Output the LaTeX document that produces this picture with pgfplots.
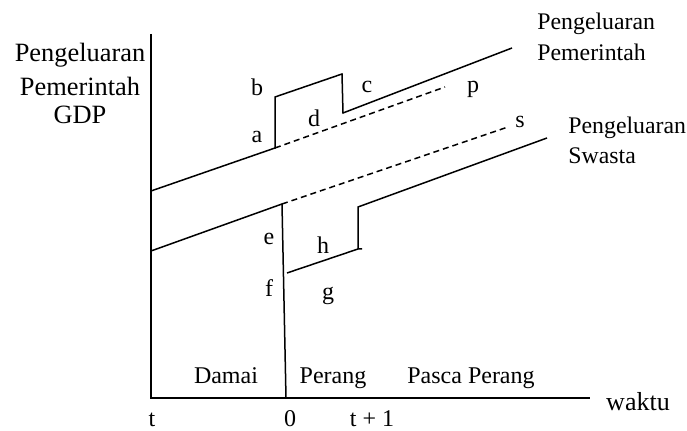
\documentclass[border=0pt]{standalone}
\usepackage{fontspec}
\setmainfont{Liberation Serif}
\usepackage{pgfplots}
\pgfplotsset{compat=1.18}
\tikzset{
  lbl/.style={font=\rmfamily\fontsize{12}{14}\selectfont, inner sep=0pt},
  big/.style={font=\rmfamily\fontsize{13.2}{15}\selectfont, inner sep=0pt},
  side/.style={font=\rmfamily\fontsize{11.9}{14}\selectfont, inner sep=0pt, anchor=west},
  ln/.style={black, line width=0.75pt, mark=none},
}

\begin{document}
\begin{tikzpicture}
\begin{axis}[
  scale only axis, width=343.5pt, height=215.5pt,
  xmin=0, xmax=687, ymin=0, ymax=431, y dir=reverse,
  hide axis, clip=false,
]
% keep the full frame in the bounding box
\path (axis cs:0,0) rectangle (axis cs:687,431);
% axes
\addplot[ln] coordinates {(151,34)(151,398)(590,398)};
% government spending
\addplot[ln] coordinates {(151,191)(275,148)(275,97)(342,74)(343,113)(512,48)};
\addplot[ln, dash pattern=on 3pt off 2pt] coordinates {(275,148)(445,87)};
% private spending
\addplot[ln] coordinates {(151,251)(282,204)(286,398)};
\addplot[ln, dash pattern=on 3pt off 2pt] coordinates {(282,204)(508,127)};
\addplot[ln] coordinates {(287,273)(358,249)(362,249)};
\addplot[ln] coordinates {(358,249)(358,207)(547,138)};

% left label
\node[big] at (axis cs:80,55) {Pengeluaran};
\node[big] at (axis cs:80,86) {Pemerintah};
\node[big] at (axis cs:80,115) {GDP};
% right labels
\node[side] at (axis cs:537,24) {Pengeluaran};
\node[side] at (axis cs:537,52) {Pemerintah};
\node[side] at (axis cs:568,128) {Pengeluaran};
\node[side] at (axis cs:568,156) {Swasta};
% letters
\node[lbl] at (axis cs:257,137) {a};
\node[lbl] at (axis cs:257,87) {b};
\node[lbl] at (axis cs:367,87) {c};
\node[lbl] at (axis cs:314,118) {d};
\node[lbl] at (axis cs:473,89) {p};
\node[lbl] at (axis cs:520,122) {s};
\node[lbl] at (axis cs:269,239) {e};
\node[lbl] at (axis cs:269,288) {f};
\node[lbl] at (axis cs:323,245) {h};
\node[lbl] at (axis cs:328,296) {g};
% periods
\node[lbl, anchor=base] at (axis cs:226,384) {Damai};
\node[lbl, anchor=base] at (axis cs:333,384) {Perang};
\node[lbl, anchor=base] at (axis cs:471,384) {Pasca Perang};
% time axis
\node[lbl, anchor=base] at (axis cs:152,427) {t};
\node[lbl, anchor=base] at (axis cs:290,427) {0};
\node[lbl, anchor=base] at (axis cs:372,427) {t + 1};
\node[lbl, font=\rmfamily\fontsize{13}{15}\selectfont, anchor=base] at (axis cs:638,411) {waktu};
\end{axis}
\end{tikzpicture}
\end{document}
